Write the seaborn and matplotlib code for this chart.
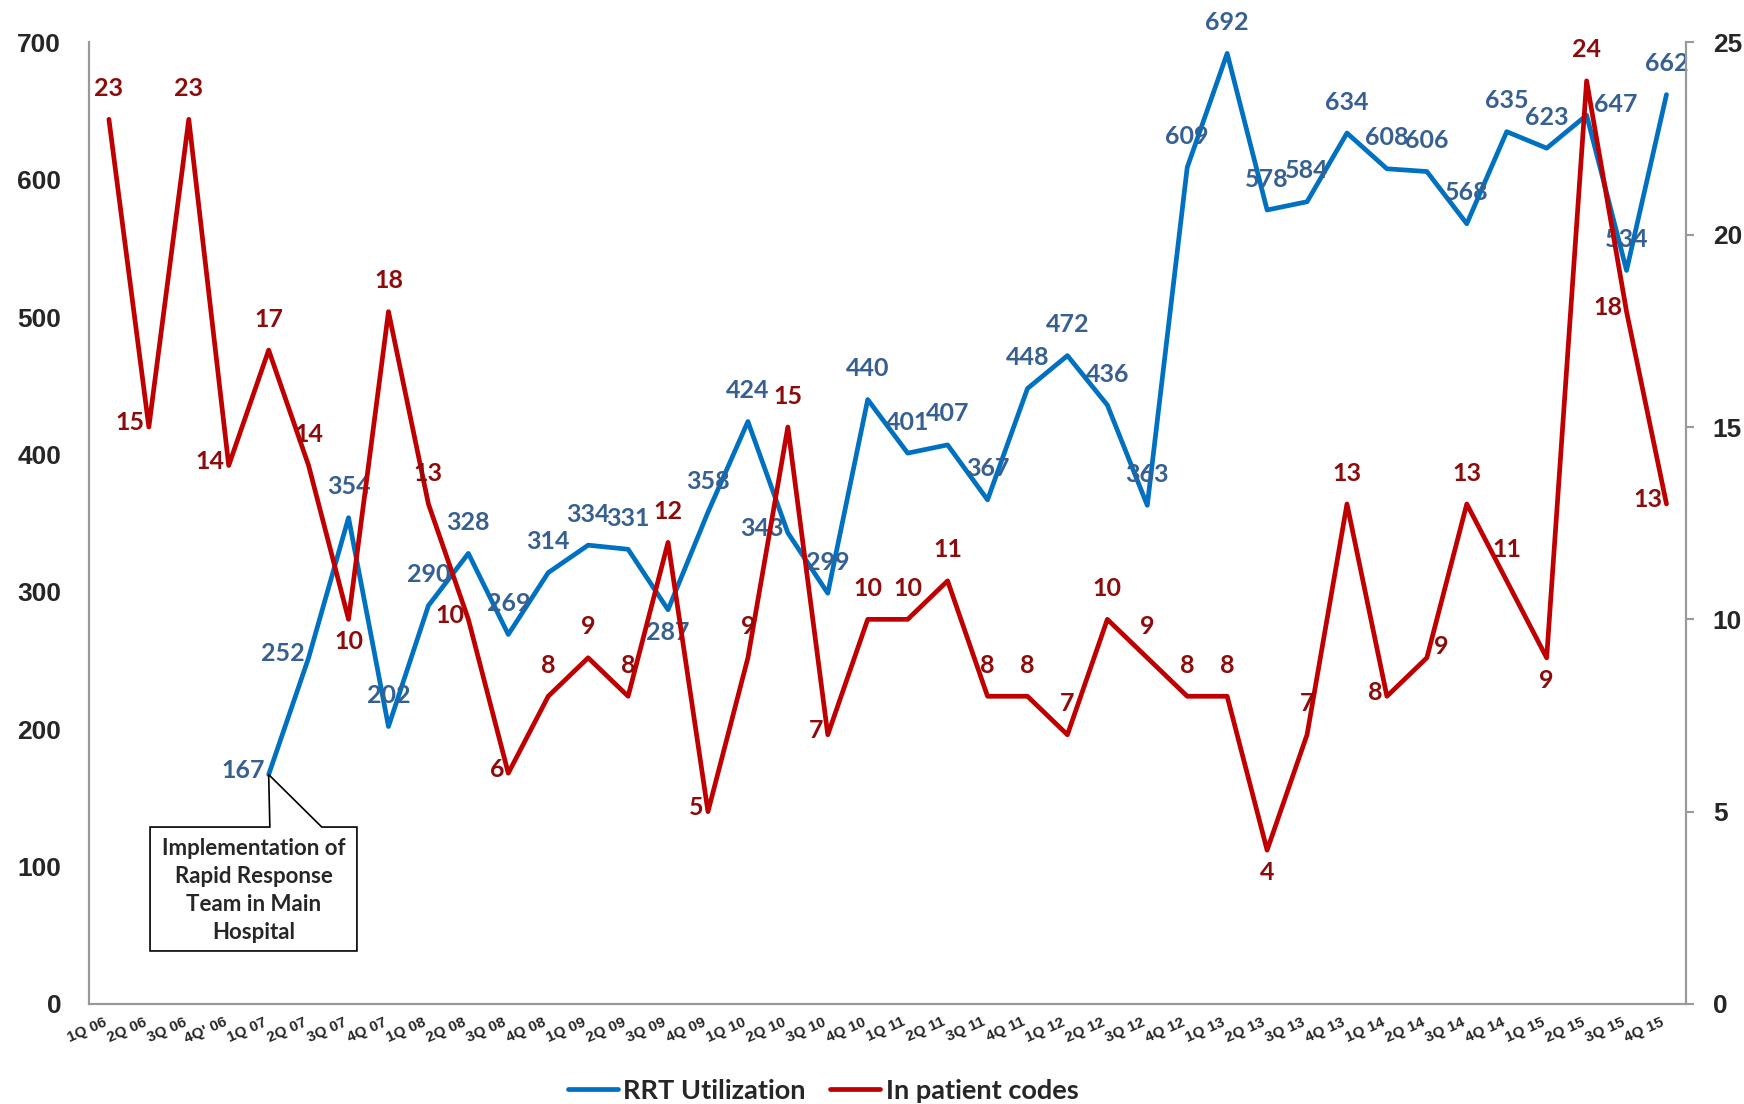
import numpy as np
import pandas as pd
import matplotlib
matplotlib.use("Agg")
import matplotlib.pyplot as plt
from matplotlib.patches import Polygon
import seaborn as sns

# quarters on the x axis
quarters = ["1Q 06", "2Q 06", "3Q 06", "4Q' 06",
            "1Q 07", "2Q 07", "3Q 07", "4Q 07",
            "1Q 08", "2Q 08", "3Q 08", "4Q 08",
            "1Q 09", "2Q 09", "3Q 09", "4Q 09",
            "1Q 10", "2Q 10", "3Q 10", "4Q 10",
            "1Q 11", "2Q 11", "3Q 11", "4Q 11",
            "1Q 12", "2Q 12", "3Q 12", "4Q 12",
            "1Q 13", "2Q 13", "3Q 13", "4Q 13",
            "1Q 14", "2Q 14", "3Q 14", "4Q 14",
            "1Q 15", "2Q 15", "3Q 15", "4Q 15"]

# RRT utilization (team started 1Q 07)
rrt = [np.nan, np.nan, np.nan, np.nan,
       167, 252, 354, 202,
       290, 328, 269, 314,
       334, 331, 287, 358,
       424, 343, 299, 440,
       401, 407, 367, 448,
       472, 436, 363, 609,
       692, 578, 584, 634,
       608, 606, 568, 635,
       623, 647, 534, 662]

# in patient codes
codes = [23, 15, 23, 14,
         17, 14, 10, 18,
         13, 10, 6, 8,
         9, 8, 12, 5,
         9, 15, 7, 10,
         10, 11, 8, 8,
         7, 10, 9, 8,
         8, 4, 7, 13,
         8, 9, 13, 11,
         9, 24, 18, 13]

left_ticks = list(range(0, 701, 100))
right_ticks = list(range(0, 26, 5))

# where each data label sits relative to its point (a=above, b=below, l=left, r=right)
rrt_label_pos = list("----" "llaa" "aaaa" "aaba" "alaa" "aaaa" "aaaa" "aaaa" "aaaa" "araa")
code_label_pos = list("alal" "aaba" "alla" "aaal" "aala" "aaaa" "aaaa" "abaa" "lraa" "ball")

blue = "#0070C0"
red = "#C00000"
blue_txt = "#376092"
red_txt = "#8E0B0B"
calibri_like = ["Lato", "DejaVu Sans"]

sns.set_theme(style="white")
plt.rcParams["font.family"] = ["Liberation Sans", "DejaVu Sans"]

df = pd.DataFrame({"x": np.arange(len(quarters)), "rrt": rrt, "codes": codes})

fig = plt.figure(figsize=(17.44, 11.04), dpi=100)
ax = fig.add_axes([0.051, 0.0906, 0.916, 0.871])
ax2 = ax.twinx()

sns.lineplot(data=df, x="x", y="rrt", ax=ax, color=blue, lw=3.4, label="RRT Utilization", legend=False)
sns.lineplot(data=df, x="x", y="codes", ax=ax2, color=red, lw=3.4, label="In patient codes", legend=False)

ax.set_xlim(-0.5, len(quarters) - 0.5)
ax.set_ylim(0, 700)
ax2.set_ylim(0, 25)
ax.set_yticks(left_ticks)
ax2.set_yticks(right_ticks)
ax.set_xticks(df["x"])
ax.set_xticklabels(quarters, rotation=24, ha="right", fontsize=11, fontweight="bold")
ax.set_xlabel("")
ax.set_ylabel("")
ax2.set_ylabel("")
ax.tick_params(axis="y", length=0, pad=20, labelsize=19)
ax2.tick_params(axis="y", length=6, width=1.5, color="#999999", pad=13, labelsize=19)
ax.tick_params(axis="x", length=0, pad=8)
for a in (ax, ax2):
    for t in a.get_yticklabels():
        t.set_fontweight("bold")
    for s in a.spines.values():
        s.set_color("#999999")
        s.set_linewidth(1.5)
    a.spines["top"].set_visible(False)
    a.grid(False)

offsets = {"a": ((0, 14), "center", "bottom"),
           "b": ((0, -8), "center", "top"),
           "l": ((-3, 3), "right", "center"),
           "r": ((5, 8), "left", "center")}

lab_font = dict(fontsize=18, fontweight="bold", family=calibri_like)

for i, v in enumerate(rrt):
    if np.isnan(v):
        continue
    off, ha, va = offsets[rrt_label_pos[i]]
    ax.annotate(f"{int(v)}", (i, v), xytext=off, textcoords="offset points",
                ha=ha, va=va, color=blue_txt, **lab_font)

for i, v in enumerate(codes):
    off, ha, va = offsets[code_label_pos[i]]
    ax2.annotate(f"{v}", (i, v), xytext=off, textcoords="offset points",
                 ha=ha, va=va, color=red_txt, **lab_font)

# callout shape pointing at the first RRT quarter
start = int(np.argmax(~np.isnan(rrt)))
tip = (start, rrt[start])
bx0, bx1, by0, by1 = 1.03, 6.21, 38.6, 128.8
callout = Polygon([(bx0, by1), (tip[0] + 0.03, by1), tip, (5.33, by1), (bx1, by1),
                   (bx1, by0), (bx0, by0)], closed=True,
                  fc="white", ec="black", lw=1.2, zorder=5)
ax.add_patch(callout)
ax.text((bx0 + bx1) / 2, (by0 + by1) / 2 - 1,
        "Implementation of\nRapid Response\nTeam in Main\nHospital",
        ha="center", va="center", fontsize=16, fontweight="bold",
        family=calibri_like, linespacing=1.4, zorder=6)

h1, l1 = ax.get_legend_handles_labels()
h2, l2 = ax2.get_legend_handles_labels()
fig.legend(h1 + h2, l1 + l2, loc="center", bbox_to_anchor=(0.472, 0.012),
           ncol=2, frameon=False, handlelength=1.85, handletextpad=0.2,
           columnspacing=0.9, prop={"family": calibri_like, "weight": "bold", "size": 19.5})

fig.savefig("out.png", dpi=100)
